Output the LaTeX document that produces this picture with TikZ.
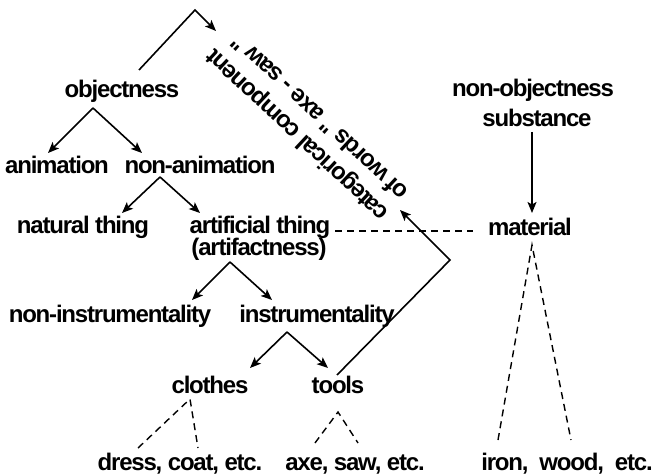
\documentclass[tikz,border=0pt]{standalone}
\usepackage{fontspec}
\setmainfont{Liberation Sans}
\newfontfamily\labelfont{Liberation Sans Bold}[LetterSpace=-5]
\usetikzlibrary{arrows.meta}
\begin{document}
\begin{tikzpicture}[x=1pt,y=-1pt,
  lbl/.style={anchor=base,inner sep=0pt,font=\labelfont\fontsize{24}{28}\selectfont},
  slant/.style={lbl,anchor=base west,rotate=137},
  link/.style={line width=1.6pt,line join=miter},
  arr/.style={link,-{Stealth[length=11pt,width=9pt,inset=2.5pt]}},
  dashlink/.style={line width=1.4pt,dash pattern=on 7pt off 5pt}
]
\useasboundingbox (0,0) rectangle (656,476);

% left hierarchy
\node[lbl] (objectness)   at (122,98)  {objectness};
\node[lbl] (animation)    at (57,173)  {animation};
\node[lbl] (nonanimation) at (200,173) {non-animation};
\node[lbl] (natural)      at (83,233)  {natural thing};
\node[lbl] (artificial)   at (260,233) {artificial thing};
\node[lbl] (artifactness) at (259,255) {(artifactness)};
\node[lbl] (noninstr)     at (110,322) {non-instrumentality};
\node[lbl] (instr)        at (317,322) {instrumentality};
\node[lbl] (clothes)      at (210,393) {clothes};
\node[lbl] (tools)        at (338,393) {tools};
\node[lbl] (dress)        at (180,470) {dress, coat, etc.};
\node[lbl] (axe)          at (355,470) {axe, saw, etc.};

% right hierarchy
\node[lbl] (nonobj)    at (533,97)  {non-objectness};
\node[lbl] (substance) at (537,127) {substance};
\node[lbl] (material)  at (530,235) {material};
\node[lbl] (iron)      at (567,470) {iron,\ \ wood,\ \ etc.};

% slanted label, two lines
\node[slant] (catline1) at (390,212) {categorical component};
\node[slant] (catline2) at (410,191) {of words " axe - saw "};

\coordinate (topbend)   at (195,10);
\coordinate (toptip)    at (216,31);
\coordinate (rightbend) at (450,260);
\coordinate (righttip)  at (400,210);

% solid arrows
\draw[arr] ([shift={(-29,10)}]objectness.base) -- ([shift={(-9,-20)}]animation.base);
\draw[arr] ([shift={(-29,10)}]objectness.base) -- ([shift={(-58,-20)}]nonanimation.base);
\draw[arr] ([shift={(-40,4)}]nonanimation.base) -- ([shift={(39,-20)}]natural.base);
\draw[arr] ([shift={(-40,4)}]nonanimation.base) -- ([shift={(-60,-20)}]artificial.base);
\draw[arr] ([shift={(-29,7)}]artifactness.base) -- ([shift={(82,-22)}]noninstr.base);
\draw[arr] ([shift={(-29,7)}]artifactness.base) -- ([shift={(-45,-22)}]instr.base);
\draw[arr] ([shift={(-30,10)}]instr.base) -- ([shift={(40,-25)}]clothes.base);
\draw[arr] ([shift={(-30,10)}]instr.base) -- ([shift={(-10,-25)}]tools.base);
\draw[arr] ([shift={(-5,5)}]substance.base) -- ([shift={(2,-22)}]material.base);

% links to the slanted label
\draw[arr] ([shift={(17,-28)}]objectness.base) -- (topbend) -- (toptip);
\draw[arr] ([shift={(-1,-18)}]tools.base) -- (rightbend) -- (righttip);

% dashed links
\draw[dashlink] ([shift={(75,-2)}]artificial.base) -- ([shift={(-57,-4)}]material.base);
\draw[dashlink] ([shift={(-42,-22)}]dress.base) -- ([shift={(-20,6)}]clothes.base) -- ([shift={(18,-22)}]dress.base);
\draw[dashlink] ([shift={(-40,-27)}]axe.base) -- ([shift={(0,19)}]tools.base) -- ([shift={(3,-27)}]axe.base);
\draw[dashlink] ([shift={(-69,-30)}]iron.base) -- ([shift={(2,10)}]material.base) -- ([shift={(4,-30)}]iron.base);
\end{tikzpicture}
\end{document}
